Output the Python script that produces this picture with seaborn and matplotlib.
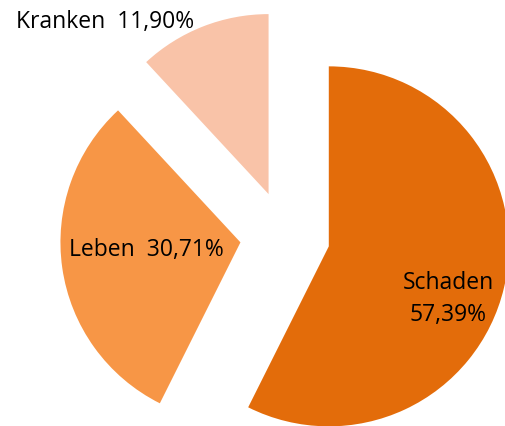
import matplotlib
matplotlib.use('Agg')
import matplotlib.pyplot as plt
import seaborn as sns

sns.set_theme(style='white')
plt.rcParams['font.family'] = ['Open Sans', 'DejaVu Sans']

sparten = ['Schaden', 'Leben', 'Kranken']
anteile = [57.39, 30.71, 11.90]
farben = ['#E36C0A', '#F79646', '#F9C3A8']
explode = [0.25, 0.25, 0.25]

fig = plt.figure(figsize=(5.05, 4.27), dpi=100)
ax = fig.add_axes([0, 0, 1, 1])

ax.pie(anteile, colors=farben, explode=explode, startangle=90,
       counterclock=False, wedgeprops=dict(linewidth=0))

# pixel mapping: centre at (285, 237) px, radius 180 px
ax.set_xlim(-285 / 180, 220 / 180)
ax.set_ylim(-190 / 180, 237 / 180)
ax.set_aspect('equal')
ax.axis('off')

def fmt(v):
    return f'{v:.2f}'.replace('.', ',') + '%'

# label positions in figure pixels
label_pos = [(448, 299), (146, 250), (105, 22)]
label_txt = [f'{sparten[0]}\n{fmt(anteile[0])}',
             f'{sparten[1]}  {fmt(anteile[1])}',
             f'{sparten[2]}  {fmt(anteile[2])}']
for (px, py), t in zip(label_pos, label_txt):
    fig.text(px / 505, 1 - py / 427, t, ha='center', va='center',
             fontsize=16.5, color='black', linespacing=1.45)

fig.savefig('out.png', dpi=100)
